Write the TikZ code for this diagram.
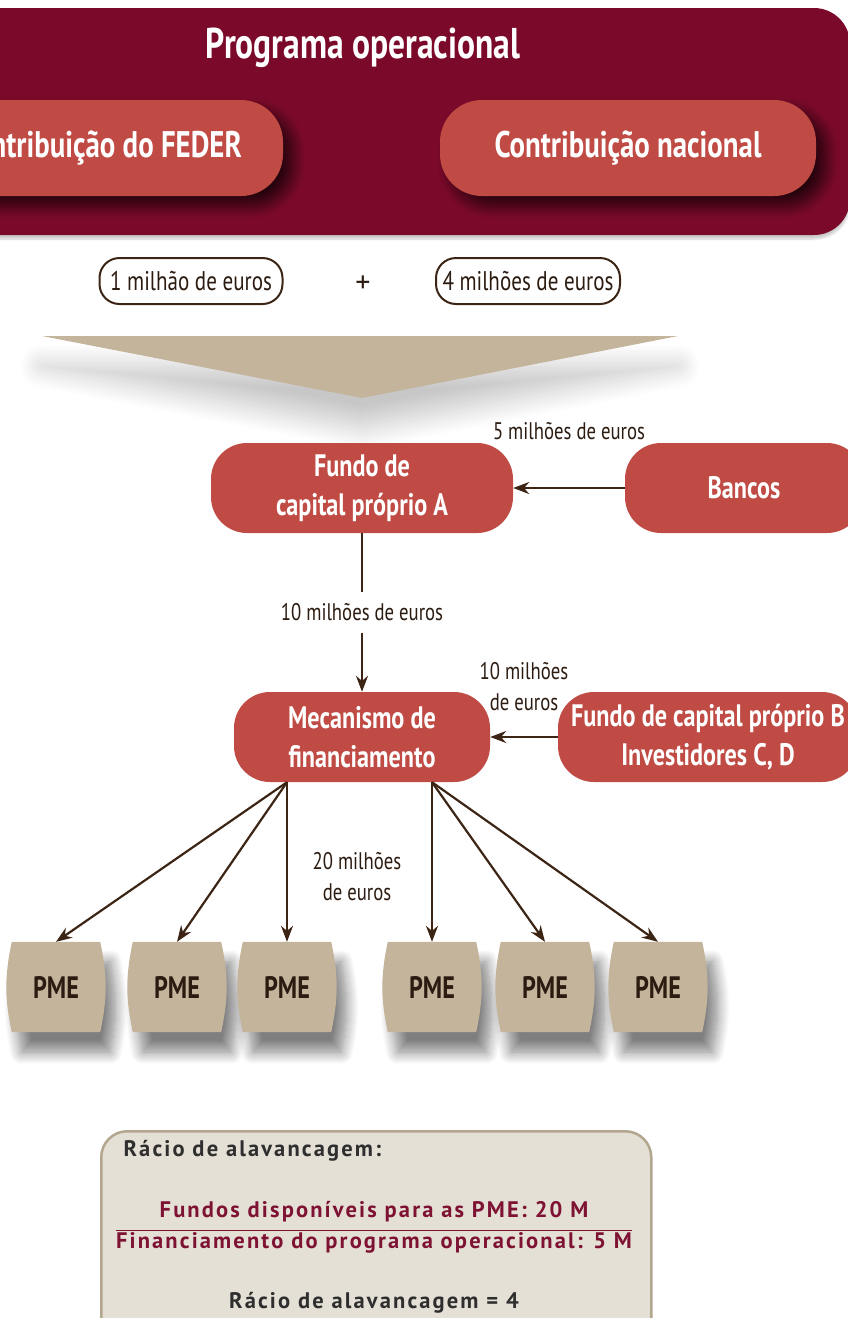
\documentclass[tikz,border=0pt]{standalone}
\usepackage{fontspec}
\setmainfont{PT Sans}
\newfontfamily\condfont[FakeStretch=0.78]{PT Sans}
\newfontfamily\sumfont[LetterSpace=9.5]{PT Sans}
\usetikzlibrary{arrows.meta,shadows.blur,backgrounds}

\definecolor{banner}{HTML}{7B0A2A}
\definecolor{boxred}{HTML}{C04B45}
\definecolor{tanfill}{HTML}{C4B49C}
\definecolor{ink}{HTML}{2B1B10}
\definecolor{arrowc}{HTML}{3D2516}
\definecolor{sumfill}{HTML}{E5E0D6}
\definecolor{sumline}{HTML}{B3A68F}
\definecolor{wine}{HTML}{7E1233}

\begin{document}
\begin{tikzpicture}[x=1pt,y=-1pt,>={Stealth[length=16pt,width=12pt]},
  topbox/.style={fill=boxred,text=white,rounded corners=42pt,
    font=\condfont\bfseries\fontsize{37}{42}\selectfont,
    blur shadow={shadow xshift=10pt,shadow yshift=-10pt,shadow opacity=70,
      shadow blur radius=12pt,shadow blur steps=12}},
  redbox/.style={fill=boxred,text=white,rounded corners=36pt,align=center,
    font=\condfont\bfseries\fontsize{31}{39}\selectfont},
  pill/.style={draw=arrowc,line width=2pt,rounded corners=20pt,fill=white,
    font=\condfont\fontsize{27}{30}\selectfont,text=ink,inner sep=0pt},
  lbl/.style={font=\condfont\fontsize{24}{31}\selectfont,text=ink,align=center},
  pme/.style={minimum width=88,minimum height=90,text=ink,
    font=\condfont\bfseries\fontsize{31}{34}\selectfont},
  sumtxt/.style={font=\sumfont\bfseries\fontsize{22.5}{26}\selectfont,text=black!82},
  arrow/.style={->,draw=arrowc,line width=2.2pt}]
  \useasboundingbox (0,0) rectangle (848,1318);

  % operational programme banner
  \fill[banner,rounded corners=36pt,
    blur shadow={shadow xshift=0pt,shadow yshift=-4pt,shadow opacity=20,shadow blur steps=8}]
    (-60,8) rectangle (850,235);
  \node[text=white,font=\condfont\bfseries\fontsize{43}{48}\selectfont] (po) at (363,48) {Programa operacional};
  \node[topbox,minimum width=364,minimum height=96] (feder) at (101,148) {Contribuição do FEDER};
  \node[topbox,minimum width=376,minimum height=96] (nac) at (628,148) {Contribuição nacional};

  \node[pill,minimum width=183,minimum height=46] (m1) at (191,281) {1 milhão de euros};
  \node[text=ink,font=\fontsize{30}{34}\selectfont] (plus) at (363,284) {+};
  \node[pill,minimum width=184,minimum height=46] (m4) at (528,281) {4 milhões de euros};

  % funnel
  \fill[tanfill,blur shadow={shadow xshift=0pt,shadow yshift=-30pt,shadow opacity=22,
      shadow blur radius=22pt,shadow blur steps=16}]
    (42,336) -- (678,336) -- (362,398) -- cycle;

  \node[redbox,minimum width=302,minimum height=90] (fa) at (362,488) {Fundo de\\capital próprio A};
  \node[redbox,minimum width=238,minimum height=90] (bancos) at (744,488) {Bancos};
  \node[redbox,minimum width=256,minimum height=90] (mec) at (362,737) {Mecanismo de\\financiamento};
  \node[redbox,minimum width=300,minimum height=90] (fb) at (708,737) {Fundo de capital próprio B\\Investidores C, D};

  \draw[arrow] (bancos) -- node[lbl,above=44pt] {5 milhões de euros} (fa);
  \draw[arrow] (fa) -- node[lbl,fill=white,inner ysep=12pt] {10 milhões de euros} (mec);
  \draw[arrow] (fb) -- node[lbl,above=22pt] {10 milhões\\de euros} (mec);

  % SMEs
  \foreach \i/\x in {1/56,2/177,3/287,4/432,5/545,6/658}
    \node[pme] (p\i) at (\x,987) {PME};
  \begin{scope}[on background layer]
    \foreach \i in {1,...,6}
      \fill[tanfill,blur shadow={shadow xshift=10pt,shadow yshift=-20pt,shadow opacity=50,
          shadow blur radius=12pt,shadow blur steps=12}]
        (p\i.north west) -- (p\i.north east) to[bend left=12] (p\i.south east)
        -- (p\i.south west) to[bend left=12] (p\i.north west);
  \end{scope}
  \foreach \i in {1,2,3}
    \draw[arrow] ([xshift=-75pt]mec.south) -- (p\i.north);
  \foreach \i in {4,5,6}
    \draw[arrow] ([xshift=70pt]mec.south) -- (p\i.north);
  \node[lbl] (l20) at (357,877) {20 milhões\\de euros};

  % leverage ratio
  \node[fill=sumfill,draw=sumline,line width=2.5pt,rounded corners=26pt,
    minimum width=550,minimum height=230,anchor=north west] (sum) at (100,1130) {};
  \node[sumtxt,anchor=west] (rt) at (120,1151) {Rácio de alavancagem:};
  \node[sumtxt,text=wine] (num) at (374,1212) {Fundos disponíveis para as PME: 20 M};
  \node[sumtxt,text=wine,inner xsep=0pt,inner ysep=2pt] (den) at (374,1243) {Financiamento do programa operacional: 5 M};
  \draw[wine,line width=1.2pt] (den.north west) -- (den.north east);
  \node[sumtxt] (eq) at (374,1303) {Rácio de alavancagem = 4};
\end{tikzpicture}
\end{document}
